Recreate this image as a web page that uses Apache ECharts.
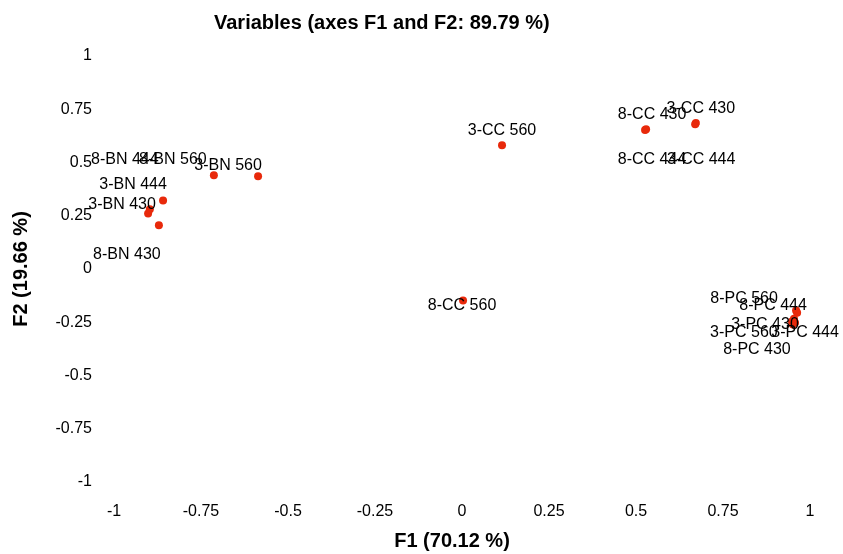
<!DOCTYPE html>
<html>
<head>
<meta charset="utf-8">
<script src="https://cdn.jsdelivr.net/npm/echarts@6/dist/echarts.min.js"></script>
<style>
  html, body { margin: 0; padding: 0; background: #fff; }
  #main { width: 843px; height: 554px; }
</style>
</head>
<body>
<div id="main"></div>
<script>
// variables and their coordinates on F1 / F2
var names = ['3-BN 560', '8-BN 560', '3-BN 444', '3-BN 430', '8-BN 444', '8-BN 430',
             '3-CC 560', '8-CC 430', '3-CC 430', '8-CC 444', '3-CC 444', '8-CC 560',
             '8-PC 560', '8-PC 444', '3-PC 430', '3-PC 560', '3-PC 444', '8-PC 430'];
var f1 = [-0.586, -0.713, -0.859, -0.902, -0.897, -0.871,
          0.115, 0.529, 0.672, 0.526, 0.670, 0.003,
          0.960, 0.963, 0.954, 0.948, 0.957, 0.951];
var f2 = [0.435, 0.440, 0.322, 0.261, 0.280, 0.205,
          0.581, 0.656, 0.685, 0.652, 0.680, -0.148,
          -0.195, -0.205, -0.233, -0.247, -0.252, -0.261];
var ticks = [-1, -0.75, -0.5, -0.25, 0, 0.25, 0.5, 0.75, 1];

// where each label sits relative to its point (pixels)
var labelOffset = {
  '3-BN 560': [-30, -11], '8-BN 560': [-41, -16], '3-BN 444': [-30, -16],
  '3-BN 430': [-26, -9], '8-BN 444': [-25, -50], '8-BN 430': [-32, 29],
  '3-CC 560': [0, -15], '8-CC 430': [6, -15], '3-CC 430': [5, -15],
  '8-CC 444': [7, 29], '3-CC 444': [6, 35], '8-CC 560': [-1, 5],
  '8-PC 560': [-52, -12], '8-PC 444': [-24, -7], '3-PC 430': [-29, 6],
  '3-PC 560': [-48, 11], '3-PC 444': [10, 10], '8-PC 430': [-36, 25]
};

var font = 'Liberation Sans, Arial, sans-serif';
var myChart = echarts.init(document.getElementById('main'));

var points = names.map(function (n, i) {
  return {
    name: n,
    value: [f1[i], f2[i]],
    label: { offset: labelOffset[n] }
  };
});

option = {
  animation: false,
  textStyle: { fontFamily: font },
  title: {
    text: 'Variables (axes F1 and F2: 89.79 %)',
    left: 209,
    top: 8,
    textStyle: { fontFamily: font, fontSize: 20, fontWeight: 'bold', color: '#000' }
  },
  grid: { left: 114, right: 33, top: 56, bottom: 72, containLabel: false, outerBoundsMode: 'none' },
  xAxis: {
    type: 'value',
    min: ticks[0],
    max: ticks[ticks.length - 1],
    interval: 0.25,
    name: 'F1 (70.12 %)',
    nameLocation: 'middle',
    nameGap: 49,
    nameTextStyle: { fontFamily: font, fontSize: 20, fontWeight: 'bold', color: '#000', padding: [0, 20, 0, 0] },
    axisLine: { show: false },
    axisTick: { show: false },
    splitLine: { show: false },
    axisLabel: { fontFamily: font, fontSize: 16, color: '#000', margin: 22 }
  },
  yAxis: {
    type: 'value',
    min: ticks[0],
    max: ticks[ticks.length - 1],
    interval: 0.25,
    name: 'F2 (19.66 %)',
    nameLocation: 'middle',
    nameGap: 83,
    nameTextStyle: { fontFamily: font, fontSize: 20, fontWeight: 'bold', color: '#000' },
    axisLine: { show: false },
    axisTick: { show: false },
    splitLine: { show: false },
    axisLabel: { fontFamily: font, fontSize: 16, color: '#000', margin: 22 }
  },
  series: [{
    type: 'scatter',
    symbolSize: 8,
    itemStyle: { color: '#E8290B', opacity: 1 },
    label: {
      show: true,
      position: 'inside',
      formatter: '{b}',
      fontFamily: font,
      fontSize: 16,
      color: '#000'
    },
    data: points
  }]
};

myChart.setOption(option);
</script>
</body>
</html>
